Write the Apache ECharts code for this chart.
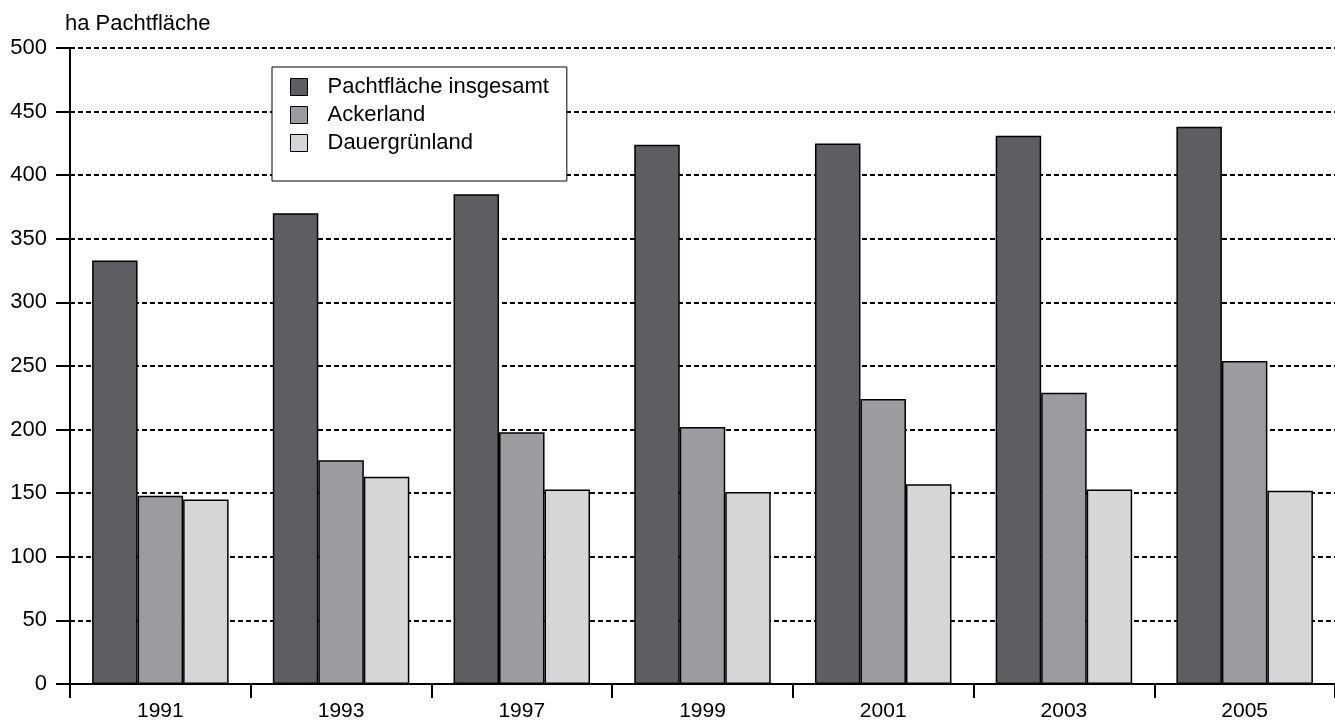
<!DOCTYPE html>
<html><head><meta charset="utf-8">
<script src="https://cdn.jsdelivr.net/npm/echarts@6/dist/echarts.min.js"></script>
<style>html,body{margin:0;padding:0;background:#fff}#c{width:1335px;height:722px}</style>
</head><body><div id="c"></div>
<script>
const years = ['1991','1993','1997','1999','2001','2003','2005'];
const seriesNames = ['Pachtfläche insgesamt','Ackerland','Dauergrünland'];
const pachtInsgesamt = [333, 370, 385, 424, 425, 431, 438];
const ackerland = [148, 176, 198, 202, 224, 229, 254];
const dauergruenland = [145, 163, 153, 151, 157, 153, 152];
const yTicks = [0, 50, 100, 150, 200, 250, 300, 350, 400, 450, 500];
const colors = ['#5d5e62', '#9b9c9f', '#d5d6d8'];
const font = "'Liberation Sans', Arial, sans-serif";

const chart = echarts.init(document.getElementById('c'), null, {renderer:'canvas'});
const mk = (name, data, color) => ({
  name, type:'bar', data, barWidth: 45.5, barGap: '0%',
  itemStyle:{color, borderColor:'#000', borderWidth:1.5},
  emphasis:{disabled:true}
});
chart.setOption({
  animation:false,
  textStyle:{fontFamily:font},
  title:{text:'ha Pachtfläche', left:60, top:8,
    textStyle:{fontFamily:font, fontSize:22, fontWeight:'normal', color:'#000'}},
  legend:{
    orient:'vertical', left:272, top:67,
    padding:[9,18,27,18], itemGap:6, itemWidth:17, itemHeight:17,
    backgroundColor:'#fff', borderColor:'#000', borderWidth:1,
    itemStyle:{borderWidth:1, borderColor:'#000'},
    textStyle:{fontFamily:font, fontSize:22, color:'#000', padding:[0,0,0,15]},
    data: seriesNames.map(n=>({name:n, icon:'rect'}))
  },
  grid:{left:70, right:-6, top:48, bottom:38, containLabel:false},
  xAxis:{
    type:'category', data:years, boundaryGap:true,
    axisLine:{lineStyle:{color:'#000', width:2}},
    axisTick:{show:true, length:14, lineStyle:{color:'#000', width:2}},
    axisLabel:{color:'#000', fontSize:21, fontFamily:font, margin:17}
  },
  yAxis:{
    type:'value', min:yTicks[0], max:yTicks[yTicks.length-1], interval:50,
    axisLine:{show:true, lineStyle:{color:'#000', width:2}},
    axisTick:{show:true, length:14, lineStyle:{color:'#000', width:2}},
    axisLabel:{color:'#000', fontSize:22, fontFamily:font, margin:23},
    splitLine:{show:true, lineStyle:{color:'#000', width:2, type:[5,3]}}
  },
  series:[
    mk(seriesNames[0], pachtInsgesamt, colors[0]),
    mk(seriesNames[1], ackerland, colors[1]),
    mk(seriesNames[2], dauergruenland, colors[2])
  ]
});
</script></body></html>
